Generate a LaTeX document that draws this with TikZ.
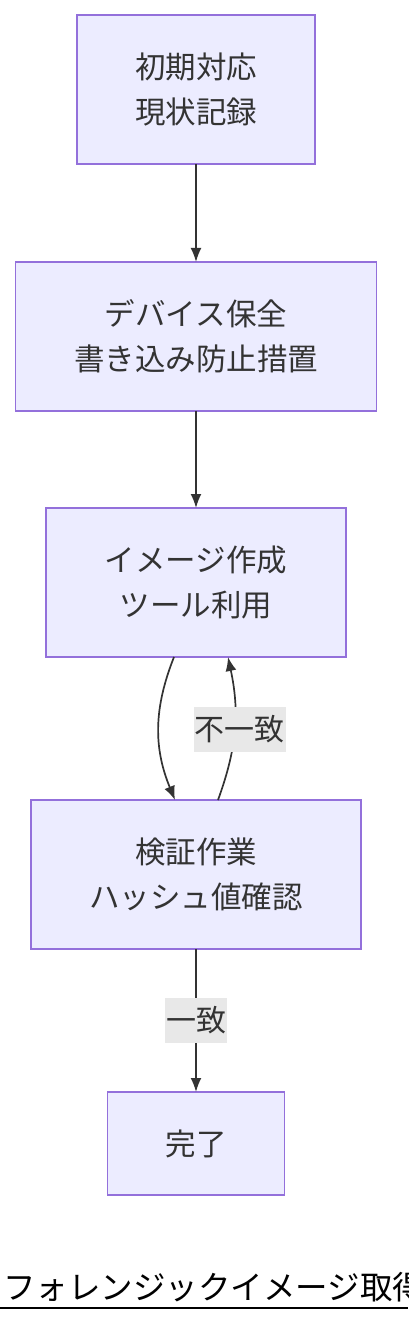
\documentclass[tikz,border=0pt]{standalone}
\usepackage{fontspec}
\setmainfont{Noto Sans CJK JP}
\usetikzlibrary{arrows.meta,positioning}

\definecolor{boxfill}{HTML}{ECECFF}
\definecolor{boxline}{HTML}{9370DB}
\definecolor{ink}{HTML}{333333}
\definecolor{labelbg}{HTML}{E8E8E8}

\begin{document}
\begin{tikzpicture}[>={Latex[length=14pt,width=11pt]},
    step box/.style={draw=boxline,fill=boxfill,line width=1.3pt,text=ink,outer sep=0pt,
      align=center,font=\fontsize{30.5}{45}\selectfont,minimum height=149pt,inner sep=0pt},
    flow/.style={->,draw=ink,line width=1.7pt},
    edge label/.style={fill=labelbg,text=ink,font=\fontsize{30}{34}\selectfont,
      inner xsep=1pt,inner ysep=0pt,minimum height=45pt}]
    \useasboundingbox (0,0) rectangle (408pt,-1324pt);

    \node[step box,minimum width=238pt] (init) at (196pt,-89.5pt) {初期対応\\現状記録};
    \node[step box,minimum width=361pt] (guard) [below=98pt of init] {デバイス保全\\書き込み防止措置};
    \node[step box,minimum width=300pt] (img) [below=97pt of guard] {イメージ作成\\ツール利用};
    \node[step box,minimum width=330pt] (chk) [below=143pt of img] {検証作業\\ハッシュ値確認};
    \node[step box,minimum width=177pt,minimum height=103pt] (done) [below=143pt of chk] {完了};

    \draw[flow] (init) -- (guard);
    \draw[flow] (guard) -- (img);
    \draw[flow] ([xshift=-22pt]img.south) to[bend right=22] ([xshift=-21pt]chk.north);
    \draw[flow] ([xshift=22pt]chk.north) to[bend right=16]
      node[edge label,xshift=5pt] (nomatch) {不一致} ([xshift=32pt]img.south);
    \draw[flow] (chk) -- node[edge label] (match) {一致} (done);

    % title, cut at the right edge as in the source
    \node[anchor=base west,inner sep=0pt,font=\fontsize{32.5}{36}\selectfont] (title)
      at (3pt,-1299pt) {フォレンジックイメージ取得};
    \draw[line width=2pt] (0,-1308pt) -- (408pt,-1308pt);
  \end{tikzpicture}
\end{document}
